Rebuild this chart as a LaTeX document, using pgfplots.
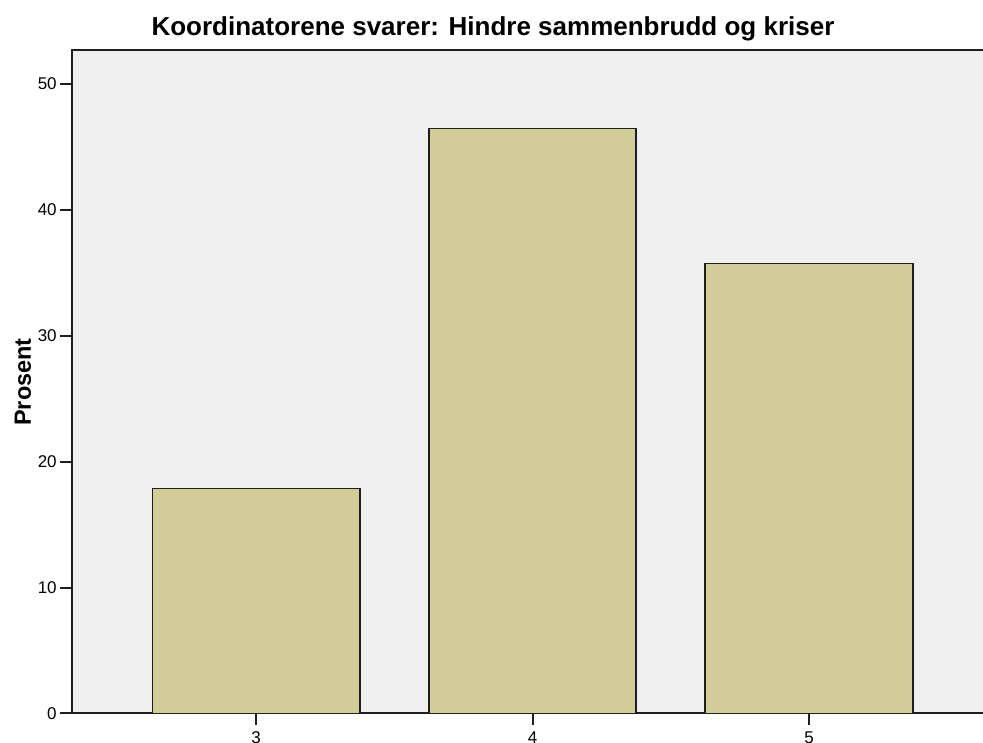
\documentclass[border=0pt]{standalone}
\usepackage{pgfplots}
\pgfplotsset{compat=1.18}
\usepackage{fontspec}
\setmainfont{Liberation Sans}
\definecolor{bgc}{RGB}{239,239,239}
\definecolor{barc}{RGB}{210,204,152}
\definecolor{edgec}{RGB}{30,30,30}
\begin{document}
\begin{tikzpicture}[x=1pt,y=1pt]
\useasboundingbox (0,0) rectangle (983,742);
\clip (0,0) rectangle (983,742);
\node[anchor=base, inner sep=0pt, font=\fontsize{26}{30}\selectfont\bfseries] at (493,706) {Koordinatorene svarer: Hindre sammenbrudd og kriser};
\begin{axis}[
  at={(71.7pt,28.5pt)}, anchor=south west,
  scale only axis, width=921.8pt, height=663pt,
  xmin=2.3325, xmax=5.6675, ymin=0, ymax=52.62,
  axis background/.style={fill=bgc},
  axis line style={edgec, line width=2pt},
  ybar, bar width=0.75,
  xtick={3,4,5}, ytick={0,10,20,30,40,50},
  tick align=outside, tick pos=left,
  major tick length=11.5pt,
  tick style={edgec, line width=2pt},
  ticklabel style={font=\fontsize{17}{20}\selectfont, text=black},
  xticklabel style={yshift=-3pt},
  /pgf/number format/assume math mode=true,
  ylabel={Prosent},
  every axis y label/.style={at={([xshift=-40.7pt]axis description cs:0,0.5)}, anchor=base, rotate=90, inner sep=0pt, font=\fontsize{23.5}{28}\selectfont\bfseries},
]
\addplot[fill=barc, draw=edgec, line width=1.8pt] coordinates {(3,17.86) (4,46.43) (5,35.71)};
\end{axis}
\end{tikzpicture}
\end{document}
